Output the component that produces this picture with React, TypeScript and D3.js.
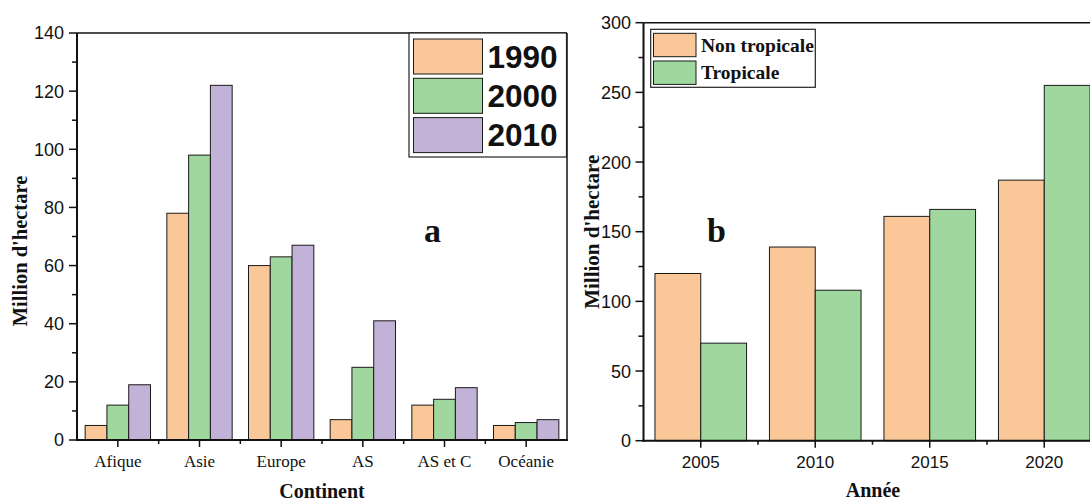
import React from "react";
import * as d3 from "d3";

// Panel a: forest area by continent
const continents = ["Afique", "Asie", "Europe", "AS", "AS et C", "Océanie"];
const years3 = ["1990", "2000", "2010"];
const v1990 = [5, 78, 60, 7, 12, 5];
const v2000 = [12, 98, 63, 25, 14, 6];
const v2010 = [19, 122, 67, 41, 18, 7];
const ticksA = [0, 20, 40, 60, 80, 100, 120, 140];

// Panel b: tropical vs non-tropical
const yearsB = ["2005", "2010", "2015", "2020"];
const zones = ["Non tropicale", "Tropicale"];
const nonTropicale = [120, 139, 161, 187];
const tropicale = [70, 108, 166, 255];
const ticksB = [0, 50, 100, 150, 200, 250, 300];

const COLORS = ["#FAC898", "#9FD79E", "#C3B2D7"];
const SANS = "'Liberation Sans', Arial, sans-serif";
const SERIF = "'Liberation Serif', 'Times New Roman', serif";
const STROKE = "#1a1a1a";

function PanelA() {
  const left = 77, right = 567, top = 33, bottom = 440;
  const x = d3.scaleBand<string>().domain(continents).range([left, right]).padding(0);
  const inner = d3.scaleBand<string>().domain(years3).range([x.bandwidth() * 0.1, x.bandwidth() * 0.9]).padding(0);
  const y = d3.scaleLinear().domain([0, 140]).range([bottom, top]);
  const series = [v1990, v2000, v2010];
  const minor = d3.range(10, 140, 20);
  return (
    <g>
      {continents.map((c, i) => (
        <g key={c} transform={`translate(${x(c)},0)`}>
          {series.map((s, k) => (
            <rect key={k} x={inner(years3[k])} y={y(s[i])} width={inner.bandwidth()} height={y(0) - y(s[i])}
              fill={COLORS[k]} stroke={STROKE} strokeWidth={1} />
          ))}
        </g>
      ))}
      {/* frame */}
      <line x1={left} x2={right} y1={top} y2={top} stroke="#111" strokeWidth={1.5} />
      <line x1={right} x2={right} y1={top} y2={bottom} stroke="#111" strokeWidth={1.5} />
      <line x1={left} x2={left} y1={top} y2={bottom + 1} stroke="#111" strokeWidth={2} />
      <line x1={left - 1} x2={right + 1} y1={bottom} y2={bottom} stroke="#111" strokeWidth={2} />
      {ticksA.map(t => (
        <g key={t}>
          <line x1={left - 8} x2={left} y1={y(t)} y2={y(t)} stroke="#111" strokeWidth={1.5} />
          <text x={64} y={y(t)} dy="0.36em" textAnchor="end" fontFamily={SANS} fontSize={18} fill="#111">{t}</text>
        </g>
      ))}
      {minor.map(t => (
        <line key={t} x1={left - 5} x2={left} y1={y(t)} y2={y(t)} stroke="#111" strokeWidth={1.5} />
      ))}
      {continents.map(c => (
        <g key={c}>
          <line x1={x(c)! + x.bandwidth() / 2} x2={x(c)! + x.bandwidth() / 2} y1={bottom} y2={bottom + 7} stroke="#111" strokeWidth={1.5} />
          <text x={x(c)! + x.bandwidth() / 2} y={467} textAnchor="middle" fontFamily={SERIF} fontSize={17} fill="#111">{c}</text>
        </g>
      ))}
      {continents.slice(1).map(c => (
        <line key={c} x1={x(c)} x2={x(c)} y1={bottom} y2={bottom + 4} stroke="#111" strokeWidth={1.5} />
      ))}
      <text transform="translate(27,251) rotate(-90)" textAnchor="middle" fontFamily={SERIF} fontWeight="bold" fontSize={20.5} fill="#111">Million d'hectare</text>
      <text x={322} y={498} textAnchor="middle" fontFamily={SERIF} fontWeight="bold" fontSize={20} fill="#111">Continent</text>
      <text x={424} y={242} fontFamily={SERIF} fontWeight="bold" fontSize={34} fill="#111">a</text>
      {/* legend */}
      <rect x={409} y={33} width={157.5} height={124} fill="#fff" stroke="#222" strokeWidth={1.2} />
      {years3.map((yr, k) => (
        <g key={yr}>
          <rect x={413.5} y={39 + k * 39.3} width={69} height={35} fill={COLORS[k]} stroke={STROKE} strokeWidth={1} />
          <text x={487.5} y={39 + k * 39.3 + 17.5} dy="0.36em" fontFamily={SANS} fontWeight="bold" fontSize={31.5} fill="#111">{yr}</text>
        </g>
      ))}
    </g>
  );
}

function PanelB() {
  const left = 643.5, top = 22.7, bottom = 440.7;
  const step = 114.5;
  const right = left + step * yearsB.length;
  const x = d3.scaleBand<string>().domain(yearsB).range([left, right]).padding(0);
  const inner = d3.scaleBand<string>().domain(zones).range([x.bandwidth() * 0.1, x.bandwidth() * 0.9]).padding(0);
  const y = d3.scaleLinear().domain([0, 300]).range([bottom, top]);
  const series = [nonTropicale, tropicale];
  const minor = d3.range(25, 300, 50);
  return (
    <g>
      {yearsB.map((yr, i) => (
        <g key={yr} transform={`translate(${x(yr)},0)`}>
          {series.map((s, k) => (
            <rect key={k} x={inner(zones[k])} y={y(s[i])} width={inner.bandwidth()} height={y(0) - y(s[i])}
              fill={COLORS[k]} stroke={STROKE} strokeWidth={1} />
          ))}
        </g>
      ))}
      <line x1={left} x2={right} y1={top} y2={top} stroke="#111" strokeWidth={1.5} />
      <line x1={right} x2={right} y1={top} y2={bottom} stroke="#111" strokeWidth={1.5} />
      <line x1={left} x2={left} y1={top} y2={bottom + 1} stroke="#111" strokeWidth={2} />
      <line x1={left - 1} x2={right + 1} y1={bottom} y2={bottom} stroke="#111" strokeWidth={2} />
      {ticksB.map(t => (
        <g key={t}>
          <line x1={left - 8} x2={left} y1={y(t)} y2={y(t)} stroke="#111" strokeWidth={1.5} />
          <text x={631} y={y(t)} dy="0.36em" textAnchor="end" fontFamily={SANS} fontSize={18} fill="#111">{t}</text>
        </g>
      ))}
      {minor.map(t => (
        <line key={t} x1={left - 5} x2={left} y1={y(t)} y2={y(t)} stroke="#111" strokeWidth={1.5} />
      ))}
      {yearsB.map(yr => (
        <g key={yr}>
          <line x1={x(yr)! + x.bandwidth() / 2} x2={x(yr)! + x.bandwidth() / 2} y1={bottom} y2={bottom + 7} stroke="#111" strokeWidth={1.5} />
          <text x={x(yr)! + x.bandwidth() / 2} y={468} textAnchor="middle" fontFamily={SANS} fontSize={17} fill="#111">{yr}</text>
        </g>
      ))}
      {yearsB.slice(1).map(yr => (
        <line key={yr} x1={x(yr)} x2={x(yr)} y1={bottom} y2={bottom + 4} stroke="#111" strokeWidth={1.5} />
      ))}
      <text transform="translate(598.5,231.7) rotate(-90)" textAnchor="middle" fontFamily={SERIF} fontWeight="bold" fontSize={21} fill="#111">Million d'hectare</text>
      <text x={873} y={497} textAnchor="middle" fontFamily={SERIF} fontWeight="bold" fontSize={20} fill="#111">Année</text>
      <text x={707} y={242} fontFamily={SERIF} fontWeight="bold" fontSize={34} fill="#111">b</text>
      {/* legend */}
      <rect x={650.7} y={29.3} width={164.6} height={58} fill="#fff" stroke="#222" strokeWidth={1.2} />
      {zones.map((z, k) => (
        <g key={z}>
          <rect x={653.5} y={33.3 + k * 27.7} width={42.5} height={23.4} fill={COLORS[k]} stroke={STROKE} strokeWidth={1} />
          <text x={701} y={33.3 + k * 27.7 + 11.7} dy="0.34em" fontFamily={SERIF} fontWeight="bold" fontSize={19.5} fill="#111">{z}</text>
        </g>
      ))}
    </g>
  );
}

export default function App() {
  return (
    <svg width={1090} height={502} viewBox="0 0 1090 502"
      style={{ position: "absolute", left: 0, top: 0, background: "#fff" }}>
      <rect width={1090} height={502} fill="#fff" />
      <PanelA />
      <PanelB />
    </svg>
  );
}
